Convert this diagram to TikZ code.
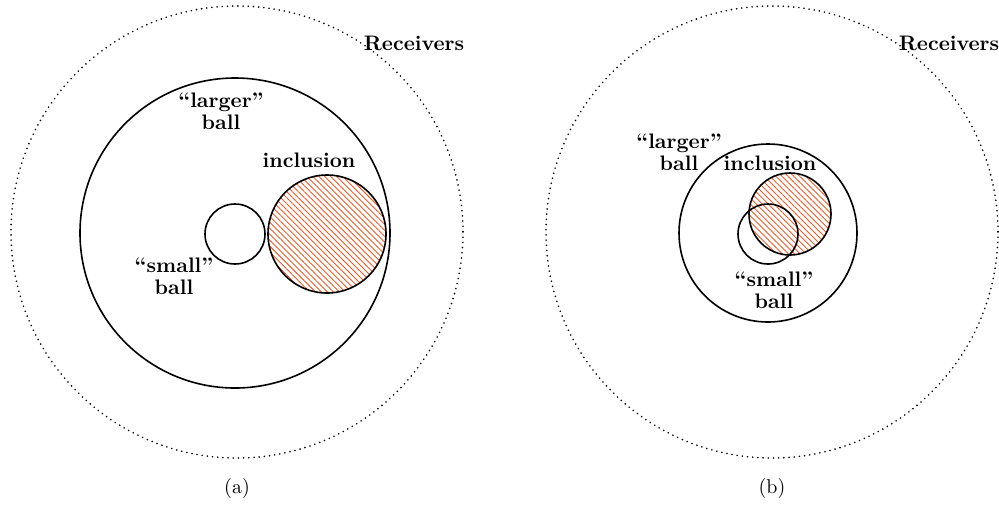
\documentclass[tikz,border=0pt]{standalone}
\usetikzlibrary{patterns.meta}
\definecolor{hatch}{RGB}{242,88,34}
\begin{document}
\begin{tikzpicture}[x=0.5pt,y=-0.5pt,
  ball/.style={draw=black,line width=0.8pt},
  recv/.style={draw=black,line width=0.9pt,line cap=round,dash pattern=on 0pt off 2.6pt},
  incl/.style={ball,pattern={Lines[angle=-45,distance=2.1pt,line width=0.45pt]},pattern color=hatch},
  lbl/.style={font=\fontsize{10.5}{11}\selectfont\bfseries,align=center,inner sep=0pt},
  captxt/.style={font=\fontsize{10}{12}\selectfont,inner sep=0pt}]
\useasboundingbox (0,0) rectangle (999,505);
% panel (a)
\draw[recv] (237,232) circle[radius=226];
\draw[ball] (235,233) circle[radius=155];
\draw[incl] (327,234) circle[radius=59];
\draw[ball] (235,234) circle[radius=30];
\node[lbl] (recA) at (414,43) {Receivers};
\node[lbl] (largeA) at (221,111) {``larger''\\ball};
\node[lbl] (inclA) at (309,160) {inclusion};
\node[lbl] (smallA) at (174,276) {``small''\\ball};
\node[captxt] (capA) at (237,488) {(a)};
% panel (b)
\draw[recv] (772,232) circle[radius=226];
\draw[ball] (768,233) circle[radius=89];
\draw[incl] (790,214) circle[radius=41];
\draw[ball] (768,234) circle[radius=30];
\node[lbl] (recB) at (949,43) {Receivers};
\node[lbl] (largeB) at (679,152) {``larger''\\ball};
\node[lbl] (inclB) at (770,163) {inclusion};
\node[lbl] (smallB) at (774,290) {``small''\\ball};
\node[captxt] (capB) at (772,488) {(b)};
\end{tikzpicture}
\end{document}
